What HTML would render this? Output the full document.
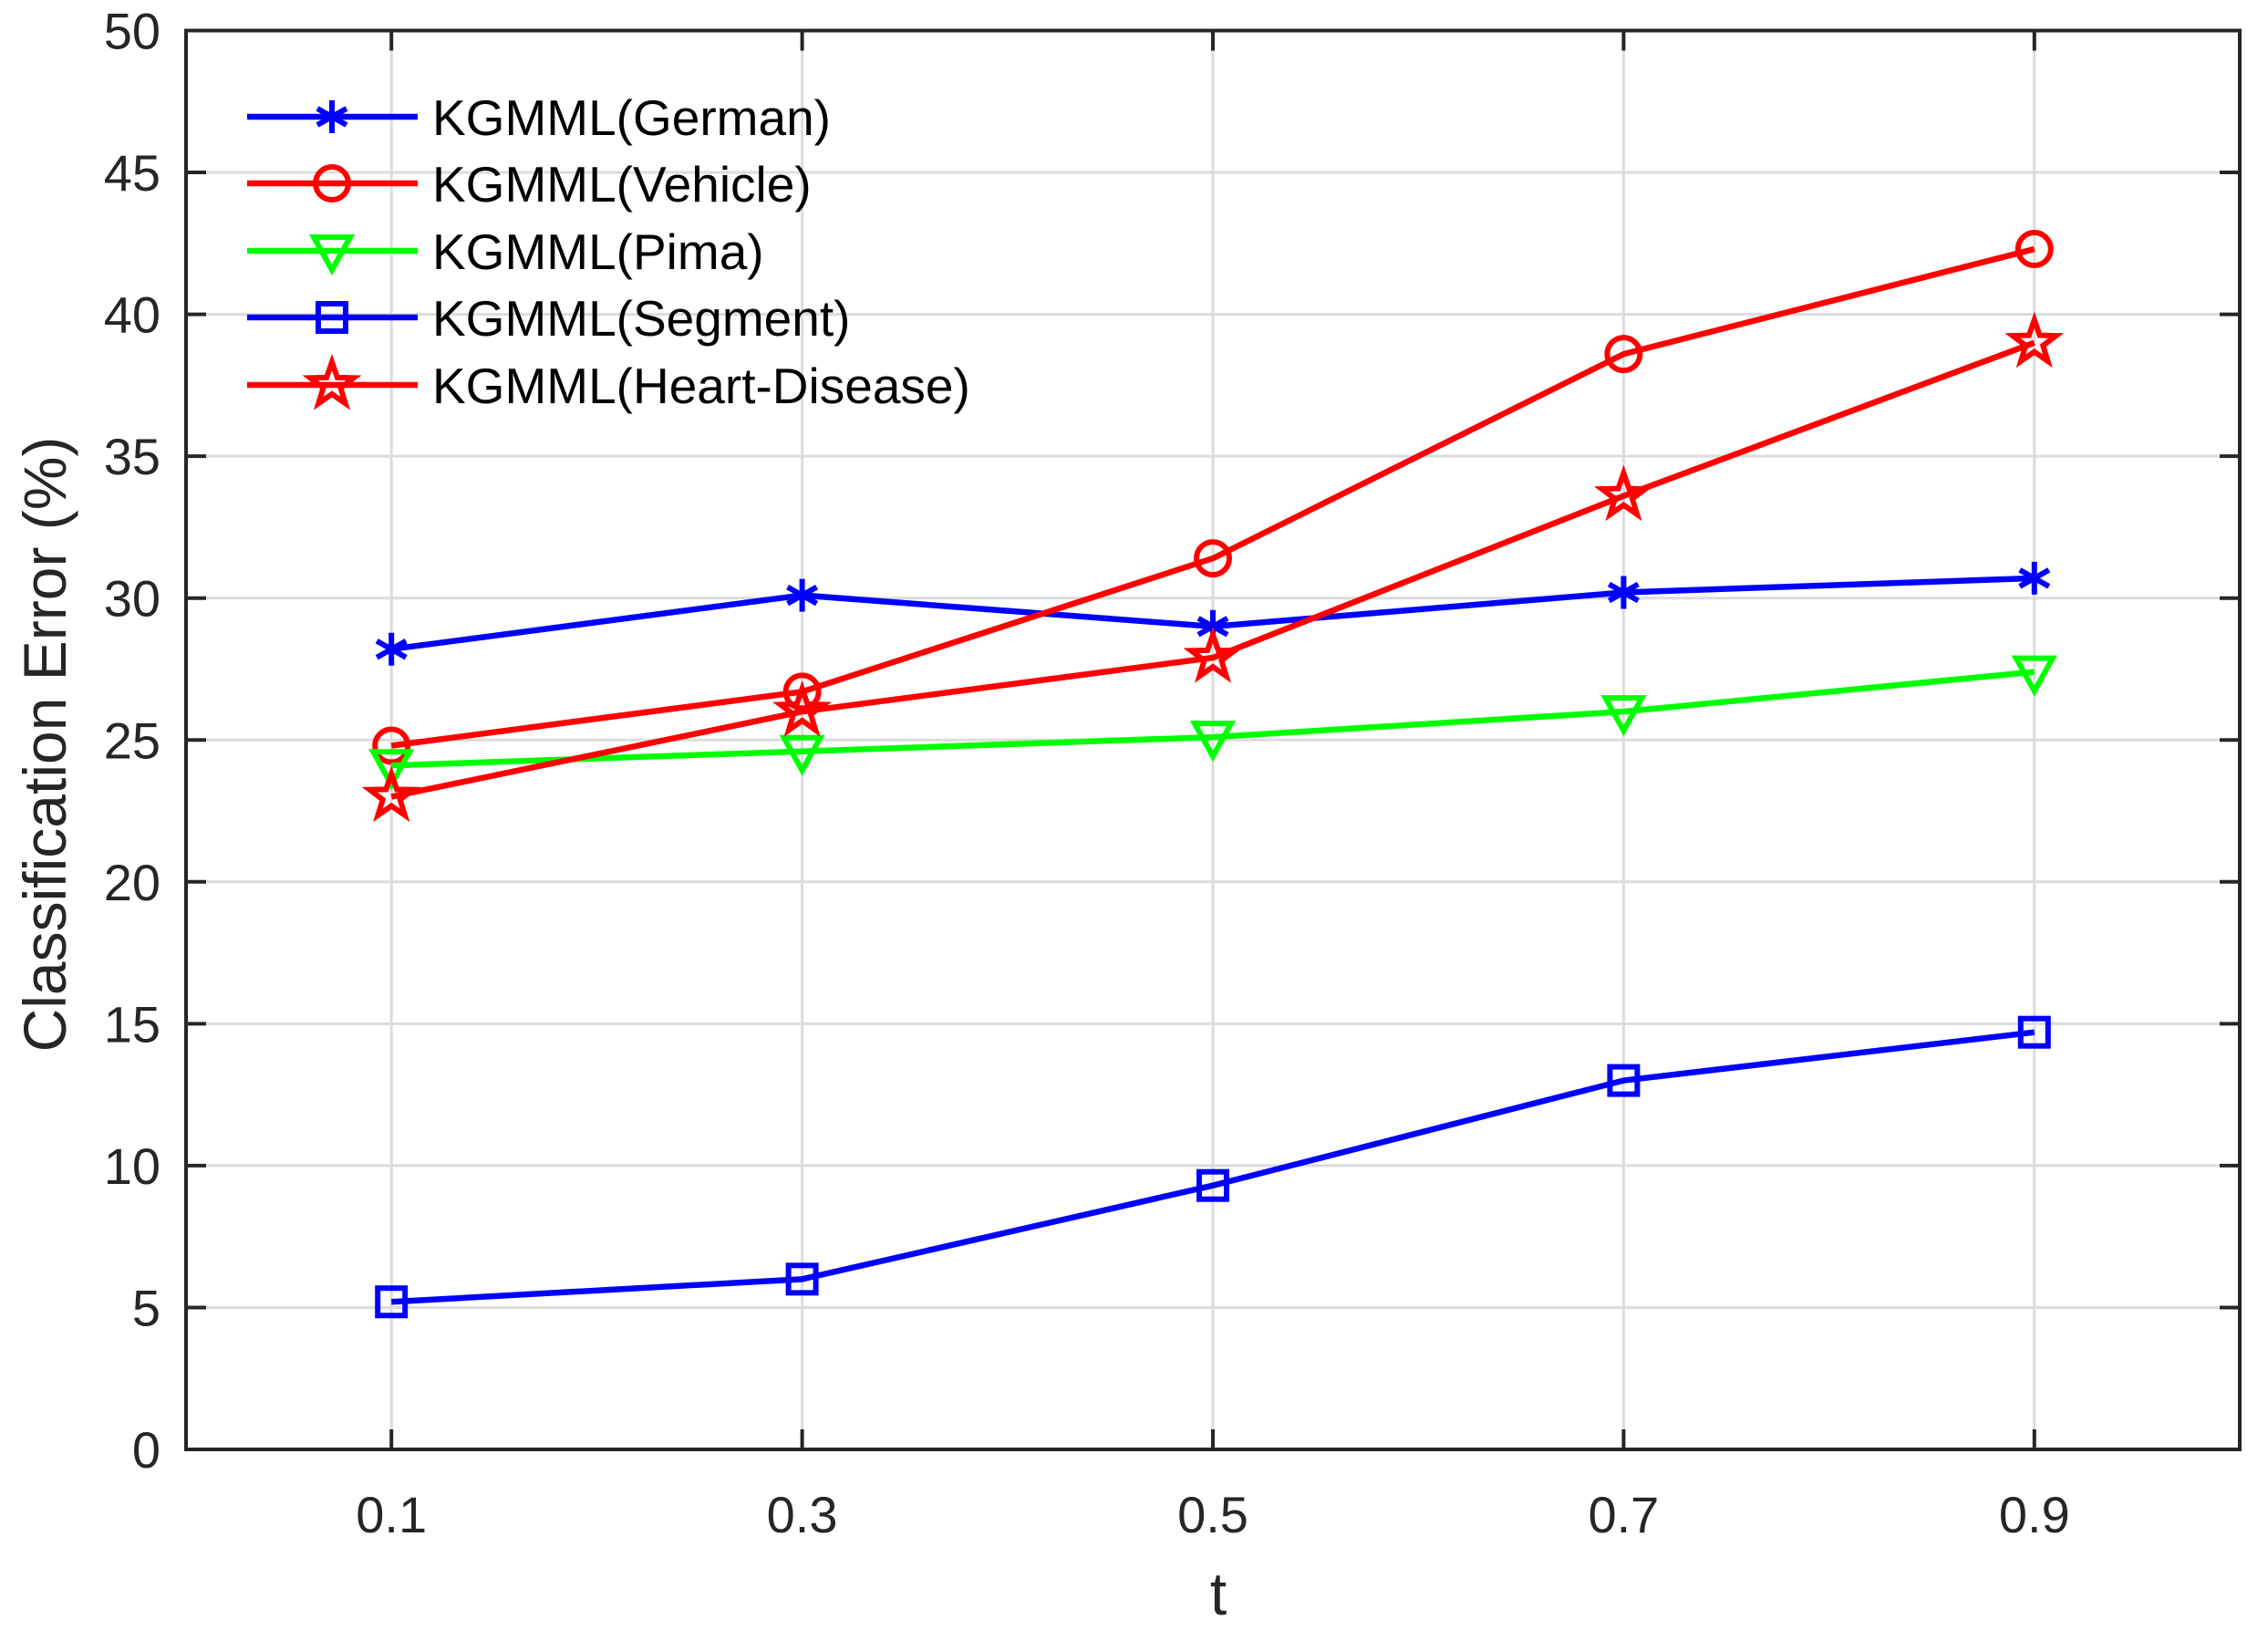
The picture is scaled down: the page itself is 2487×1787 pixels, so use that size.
<!DOCTYPE html>
<html><head><meta charset="utf-8"><style>
html,body{margin:0;padding:0;background:#fff}
svg{display:block;font-family:"Liberation Sans",sans-serif}
</style></head><body>
<svg id="chart" width="2487" height="1787" viewBox="0 0 2487 1787" xmlns="http://www.w3.org/2000/svg">
<rect width="2487" height="1787" fill="#fff"/>
<g id="grid"></g><g id="series"></g><g id="axes"></g><g id="legend"></g>
</svg>
<script>
const categories = [0.1, 0.3, 0.5, 0.7, 0.9];
const xTicks = ["0.1", "0.3", "0.5", "0.7", "0.9"];
const yTicks = [0, 5, 10, 15, 20, 25, 30, 35, 40, 45, 50];
const seriesNames = ["KGMML(German)", "KGMML(Vehicle)", "KGMML(Pima)", "KGMML(Segment)", "KGMML(Heart-Disease)"];
const german = [28.2, 30.1, 29.0, 30.2, 30.7];
const vehicle = [24.8, 26.7, 31.4, 38.6, 42.3];
const pima = [24.1, 24.6, 25.1, 26.0, 27.4];
const segment = [5.2, 6.0, 9.3, 13.0, 14.7];
const heart = [23.0, 26.0, 27.9, 33.6, 39.0];

const NS = "http://www.w3.org/2000/svg";
const L = 204, R = 2456, T = 33.5, B = 1589;
const xS = v => L + (v - 0) / (1 - 0) * (R - L);
const yS = v => B - v / 50 * (B - T);
function mk(tag, attrs, parent) {
  const e = document.createElementNS(NS, tag);
  for (const k in attrs) e.setAttribute(k, attrs[k]);
  parent.appendChild(e);
  return e;
}
const grid = document.getElementById('grid'), axes = document.getElementById('axes'),
      ser = document.getElementById('series'), leg = document.getElementById('legend');

categories.forEach((c, i) => {
  const g = mk('line', {x1: xS(c), x2: xS(c), y1: T, y2: B, stroke: '#dcdcdc', 'stroke-width': 3}, grid);
  
  
  mk('line', {x1: xS(c), x2: xS(c), y1: B, y2: B - 22, stroke: '#262626', 'stroke-width': 4}, axes);
  mk('line', {x1: xS(c), x2: xS(c), y1: T, y2: T + 22, stroke: '#262626', 'stroke-width': 4}, axes);
  const t = mk('text', {x: xS(c), y: 1680, 'text-anchor': 'middle', 'font-size': 56, fill: '#262626'}, axes);
  t.textContent = xTicks[i];
  
  
});
yTicks.forEach(v => {
  if (v > 0 && v < 50) {
    const g = mk('line', {x1: L, x2: R, y1: yS(v), y2: yS(v), stroke: '#dcdcdc', 'stroke-width': 3}, grid);
    
    
  }
  mk('line', {x1: L, x2: L + 22, y1: yS(v), y2: yS(v), stroke: '#262626', 'stroke-width': 4}, axes);
  mk('line', {x1: R, x2: R - 22, y1: yS(v), y2: yS(v), stroke: '#262626', 'stroke-width': 4}, axes);
  const t = mk('text', {x: 176, y: yS(v) + 20, 'text-anchor': 'end', 'font-size': 56, fill: '#262626'}, axes);
  t.textContent = v;
  
  
});
const frame = mk('rect', {x: L, y: T, width: R - L, height: B - T, fill: 'none', stroke: '#262626', 'stroke-width': 4}, axes);


const xl = mk('text', {x: 1336, y: 1770, 'text-anchor': 'middle', 'font-size': 66, fill: '#262626'}, axes);
xl.textContent = 't';


const yl = mk('text', {x: 0, y: 0, 'text-anchor': 'middle', 'font-size': 66, fill: '#262626', transform: 'translate(72,816) rotate(-90)'}, axes);
yl.textContent = 'Classification Error (%)';



function marker(type, x, y, color, parent) {
  const g = mk('g', {fill: 'none', stroke: color, 'stroke-width': 6}, parent);
  if (type === 'star6') {
    mk('path', {d: `M${x} ${y-18}V${y+18}M${x-16} ${y-9}L${x+16} ${y+9}M${x-16} ${y+9}L${x+16} ${y-9}`}, g);
  } else if (type === 'circle') {
    mk('circle', {cx: x, cy: y, r: 18}, g);
  } else if (type === 'tri') {
    mk('path', {d: `M${x-20} ${y-15}L${x+20} ${y-15}L${x} ${y+21}Z`}, g);
  } else if (type === 'square') {
    mk('rect', {x: x - 15, y: y - 15, width: 30, height: 30}, g);
  } else if (type === 'pent') {
    let d = '';
    for (let k = 0; k < 10; k++) {
      const a = -Math.PI / 2 + k * Math.PI / 5, r = k % 2 ? 10 : 25;
      d += (k ? 'L' : 'M') + (x + r * Math.cos(a)).toFixed(1) + ' ' + (y + r * Math.sin(a)).toFixed(1);
    }
    mk('path', {d: d + 'Z', 'stroke-width': 6}, g);
  }
  return g;
}
const defs = [
  [german, '#0000ff', 'star6', 'series-german'],
  [vehicle, '#ff0000', 'circle', 'series-vehicle'],
  [pima, '#00ff00', 'tri', 'series-pima'],
  [segment, '#0000ff', 'square', 'series-segment'],
  [heart, '#ff0000', 'pent', 'series-heart-disease']
];
defs.forEach(([vals, col, m, name], si) => {
  const g = mk('g', {}, ser);
  
  
  const pts = vals.map((v, i) => xS(categories[i]) + ',' + yS(v)).join(' ');
  mk('polyline', {points: pts, fill: 'none', stroke: col, 'stroke-width': 6.5}, g);
  vals.forEach((v, i) => {
    const mm = marker(m, xS(categories[i]), yS(v), col, g);
    
    
  });
  const ly = [128, 201, 275, 348, 422][si];
  const le = mk('g', {}, leg);
  
  
  mk('line', {x1: 271, x2: 458, y1: ly, y2: ly, stroke: col, 'stroke-width': 6.5}, le);
  marker(m, 364, ly, col, le);
  const t = mk('text', {x: 474, y: ly + 20, 'font-size': 55, fill: '#000', textLength: 0}, le);
  t.removeAttribute('textLength');
  t.textContent = seriesNames[si];
});
</script>
</body></html>
